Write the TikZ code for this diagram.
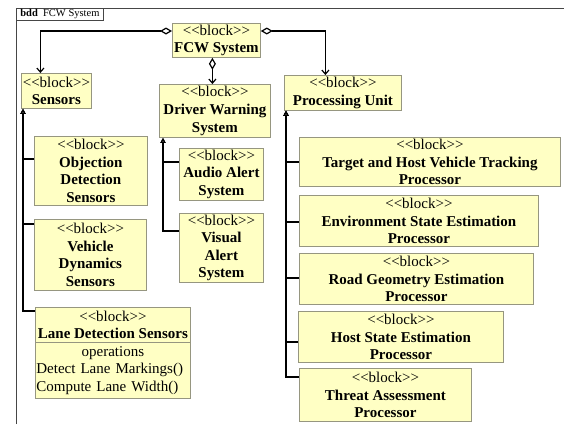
\documentclass[tikz,border=0pt]{standalone}
\usepackage{fontspec}
\setmainfont{Liberation Serif}
\usetikzlibrary{arrows.meta}
\definecolor{blockfill}{RGB}{255,255,196}
\definecolor{blockline}{RGB}{150,150,128}
\definecolor{framegray}{RGB}{70,70,70}
% kerns keep the font mapping from turning << and >> into guillemets
\newcommand\blockstereo{\textless\kern0pt\textless block\textgreater\kern0pt\textgreater}
\tikzset{
  blk/.style={draw=blockline, fill=blockfill, line width=0.8pt, anchor=north west,
    align=center, inner sep=1pt, font=\fontsize{15}{17.6}\selectfont},
  comp/.style={draw=black, line width=1.2pt,
    {Diamond[open,length=12pt,width=7pt,fill=white]}-{Straight Barb[length=4pt,width=7pt]}},
  gen/.style={draw=black, line width=1.2pt,
    -{Triangle[open,length=5pt,width=5pt,fill=white]}}
}
\begin{document}
\begin{tikzpicture}[x=1pt,y=-1pt]
\useasboundingbox (0,0) rectangle (564,424);

% diagram frame and header
\draw[framegray, line width=1pt] (16,424) -- (16,8) -- (564,8);
\node[draw=framegray, line width=0.8pt, anchor=north west, minimum width=87pt,
  minimum height=12pt, inner sep=1pt, font=\fontsize{10.5}{12}\selectfont]
  (hdr) at (16,8) {\textbf{bdd}\ \ FCW System};

% top-level system
\node[blk, minimum width=88pt, minimum height=34pt] (fcw) at (172,23)
  {\blockstereo\\\textbf{FCW System}};

% sensors branch
\node[blk, minimum width=70pt, minimum height=35pt] (sens) at (21,73)
  {\blockstereo\\\textbf{Sensors}};
\node[blk, minimum width=113pt, minimum height=69pt] (ods) at (34,136)
  {\blockstereo\\\textbf{Objection}\\\textbf{Detection}\\\textbf{Sensors}};
\node[blk, minimum width=112pt, minimum height=71pt] (vds) at (34,219)
  {\blockstereo\\\textbf{Vehicle}\\\textbf{Dynamics}\\\textbf{Sensors}};
\node[blk, minimum width=155pt, minimum height=35pt] (lds) at (35,307)
  {\blockstereo\\\textbf{Lane Detection Sensors}};
\node[blk, align=left, text width=153pt, minimum height=56pt] (ldsops) at (35,342)
  {\makebox[153pt][c]{operations}\\Detect Lane Markings()\\Compute Lane Width()};

% driver warning branch
\node[blk, minimum width=111pt, minimum height=53pt] (dws) at (159,84)
  {\blockstereo\\\textbf{Driver Warning}\\\textbf{System}};
\node[blk, minimum width=84pt, minimum height=52pt] (aas) at (179,148)
  {\blockstereo\\\textbf{Audio Alert}\\\textbf{System}};
\node[blk, minimum width=84pt, minimum height=69pt] (vas) at (179,213)
  {\blockstereo\\\textbf{Visual}\\\textbf{Alert}\\\textbf{System}};

% processing branch
\node[blk, minimum width=117pt, minimum height=35pt] (pu) at (284,75)
  {\blockstereo\\\textbf{Processing Unit}};
\node[blk, minimum width=261pt, minimum height=49pt] (thv) at (299,137)
  {\blockstereo\\\textbf{Target and Host Vehicle Tracking}\\\textbf{Processor}};
\node[blk, minimum width=239pt, minimum height=51pt] (ese) at (299,195)
  {\blockstereo\\\textbf{Environment State Estimation}\\\textbf{Processor}};
\node[blk, minimum width=234pt, minimum height=51pt] (rge) at (299,253)
  {\blockstereo\\\textbf{Road Geometry Estimation}\\\textbf{Processor}};
\node[blk, minimum width=205pt, minimum height=51pt] (hse) at (298,311)
  {\blockstereo\\\textbf{Host State Estimation}\\\textbf{Processor}};
\node[blk, minimum width=172pt, minimum height=53pt] (tap) at (299,368)
  {\blockstereo\\\textbf{Threat Assessment}\\\textbf{Processor}};

% composition links
\draw[comp] ([yshift=-8pt]fcw.north west) -| ([xshift=-16pt]sens.north);
\draw[comp] ([yshift=-8pt]fcw.north east) -| ([xshift=-17.5pt]pu.north);
\draw[comp] ([xshift=-4pt]fcw.south) -- ([xshift=-4pt]fcw.south |- dws.north);

% generalization links
\draw[gen] ([yshift=-23pt]ods.north west) -| ([xshift=2pt]sens.south west);
\draw[gen] ([yshift=-5pt]vds.north west) -| ([xshift=2pt]sens.south west);
\draw[gen] ([yshift=-4pt]lds.north west) -| ([xshift=2pt]sens.south west);

\draw[gen] ([yshift=-14pt]aas.north west) -| ([xshift=4pt]dws.south west);
\draw[gen] ([yshift=-18pt]vas.north west) -| ([xshift=4pt]dws.south west);

\draw[gen] ([yshift=-25pt]thv.north west) -| ([xshift=2pt]pu.south west);
\draw[gen] ([yshift=-27pt]ese.north west) -| ([xshift=2pt]pu.south west);
\draw[gen] ([yshift=-25pt]rge.north west) -| ([xshift=2pt]pu.south west);
\draw[gen] ([yshift=-31pt]hse.north west) -| ([xshift=2pt]pu.south west);
\draw[gen] ([yshift=-9pt]tap.north west) -| ([xshift=2pt]pu.south west);
\end{tikzpicture}
\end{document}
